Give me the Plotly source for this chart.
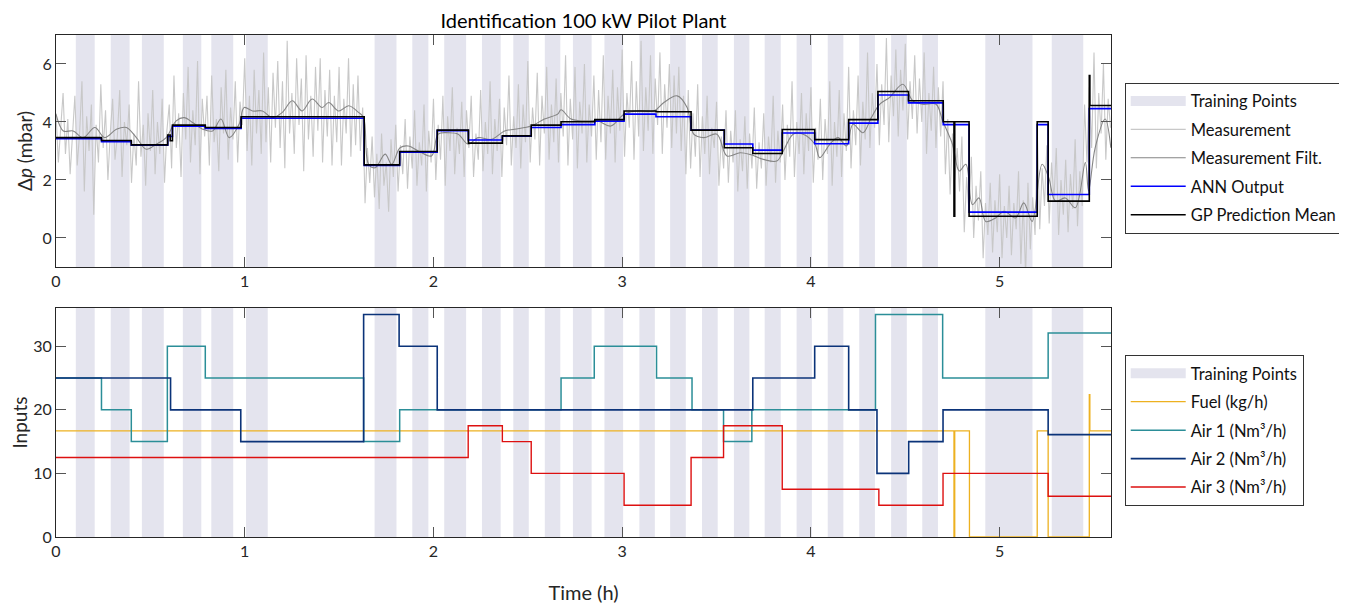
import plotly.graph_objects as go
from plotly.subplots import make_subplots

# ---------------- data ----------------
train_start = [0.105, 0.29, 0.455, 0.672, 0.823, 1.007, 1.688, 1.888, 2.057, 2.257, 2.423, 2.59, 2.739,
               2.906, 3.091, 3.254, 3.423, 3.592, 3.755, 3.924, 4.089, 4.256, 4.425, 4.59, 4.924, 5.276]
train_end = [0.205, 0.39, 0.571, 0.77, 0.939, 1.122, 1.804, 1.973, 2.173, 2.356, 2.505, 2.672, 2.838,
             3.005, 3.173, 3.337, 3.506, 3.674, 3.84, 4.005, 4.172, 4.339, 4.508, 4.673, 5.174, 5.443]

# raw measurement, sampled every MEAS_DT hours from t = 0 (8 samples per 0.1 h row)
MEAS_DT = 0.0125
meas = [
    4.3, 2.6, 3.8, 5.0, 2.9, 4.1, 2.2, 3.7,
    4.9, 2.5, 3.6, 5.4, 1.6, 4.2, 3.0, 4.6,
    0.8, 3.9, 2.6, 5.3, 3.1, 4.4, 2.0, 3.6,
    4.8, 2.7, 3.5, 5.1, 2.1, 4.0, 3.2, 4.6,
    1.9, 3.6, 2.5, 5.4, 2.8, 3.9, 1.8, 4.3,
    3.0, 5.1, 2.2, 4.0, 2.9, 4.8, 1.9, 3.7,
    4.6, 2.4, 5.6, 3.1, 4.3, 2.1, 5.0, 3.4,
    5.9, 2.6, 4.4, 3.2, 6.1, 2.2, 4.8, 3.5,
    4.9, 2.5, 5.6, 3.3, 4.1, 2.3, 5.2, 3.6,
    5.8, 2.7, 4.5, 3.4, 5.4, 2.6, 4.7, 3.9,
    6.2, 3.0, 4.9, 2.5, 5.8, 3.6, 5.1, 2.9,
    6.4, 3.3, 5.2, 2.6, 5.7, 3.8, 6.1, 3.1,
    5.4, 2.4, 6.8, 3.6, 5.0, 2.9, 6.2, 3.9,
    5.5, 2.3, 6.3, 3.4, 4.9, 2.8, 5.9, 3.7,
    6.2, 2.6, 5.1, 3.5, 5.8, 2.5, 4.9, 3.3,
    5.9, 2.5, 4.8, 3.6, 6.2, 2.8, 5.3, 3.2,
    5.6, 3.0, 4.5, 1.2, 3.1, 1.9, 3.5, 1.4,
    2.9, 1.0, 3.6, 1.8, 2.6, 0.9, 3.4, 2.1,
    3.9, 1.6, 3.2, 2.2, 4.1, 1.7, 3.5, 2.4,
    4.4, 1.8, 3.3, 2.5, 4.6, 1.6, 3.7, 2.6,
    4.8, 2.0, 3.9, 2.7, 4.9, 1.8, 4.2, 3.0,
    5.2, 2.2, 3.8, 2.9, 4.7, 2.1, 4.4, 3.1,
    4.9, 2.1, 3.6, 2.7, 5.1, 2.3, 4.0, 2.9,
    5.4, 2.2, 4.1, 3.0, 4.8, 2.1, 4.5, 3.2,
    5.6, 2.5, 4.2, 3.1, 5.3, 2.4, 4.6, 3.3,
    6.1, 2.6, 4.5, 3.4, 5.7, 2.5, 4.9, 3.6,
    5.9, 2.7, 4.6, 3.3, 5.5, 2.6, 5.0, 3.5,
    6.3, 2.5, 4.8, 3.4, 5.9, 2.4, 4.7, 3.6,
    6.0, 2.6, 4.6, 3.5, 5.6, 2.7, 5.1, 3.3,
    6.3, 2.7, 4.9, 3.6, 5.8, 2.6, 5.2, 3.7,
    6.5, 2.8, 5.0, 3.8, 6.1, 2.7, 5.4, 3.5,
    6.8, 3.0, 5.2, 3.7, 6.3, 2.9, 5.5, 3.9,
    6.4, 2.9, 5.3, 3.8, 6.0, 3.1, 5.6, 3.6,
    5.9, 3.0, 4.9, 2.2, 5.1, 2.4, 4.3, 2.8,
    5.3, 2.1, 4.2, 2.9, 4.9, 2.2, 3.8, 3.1,
    4.7, 1.8, 3.5, 2.4, 4.4, 1.9, 3.7, 2.6,
    4.4, 1.6, 3.4, 2.3, 4.2, 1.7, 3.6, 2.4,
    4.5, 1.7, 3.3, 2.4, 4.3, 1.8, 3.5, 2.6,
    4.9, 1.9, 3.7, 2.6, 4.6, 2.0, 3.9, 2.8,
    5.4, 2.1, 4.0, 2.9, 5.0, 2.2, 4.3, 3.0,
    5.2, 1.9, 3.8, 2.7, 4.8, 2.0, 4.1, 2.9,
    5.4, 1.8, 4.0, 2.8, 5.1, 2.1, 4.3, 3.0,
    5.9, 2.4, 4.4, 3.2, 5.6, 2.5, 4.7, 3.4,
    6.4, 3.1, 5.0, 3.8, 6.0, 3.2, 5.3, 3.9,
    6.9, 3.3, 5.6, 4.2, 6.5, 3.5, 5.8, 4.4,
    6.7, 3.4, 5.4, 4.1, 6.3, 3.6, 5.5, 4.0,
    6.4, 2.9, 5.0, 3.7, 5.9, 3.1, 5.2, 3.5,
    5.4, 2.2, 4.1, 1.5, 3.6, 2.0, 3.1, 1.6,
    3.5, 0.2, 2.1, 0.9, 2.8, 0.0, 1.8, 0.6,
    2.3, -0.7, 1.2, 0.1, 1.9, -0.5, 1.3, 0.2,
    2.2, -0.7, 1.1, 0.0, 1.8, -0.6, 1.2, 0.3,
    2.3, -0.9, 1.3, -1.3, 1.9, -0.4, 1.4, 0.1,
    3.5, 0.3, 2.4, 1.1, 3.2, 0.5, 2.6, 1.3,
    3.1, 0.1, 2.0, 0.8, 2.7, 0.2, 2.2, 1.0,
    3.4, 0.4, 2.3, 1.1, 4.6, 2.6, 5.2, 3.1,
    6.4, 2.4, 5.0, 3.6, 6.0, 2.7, 4.8, 3.8,
]

filt_t = [0, 0.039, 0.091, 0.144, 0.206, 0.258, 0.320, 0.373, 0.426, 0.478, 0.531, 0.584, 0.637, 0.680,
          0.724, 0.777, 0.830, 0.874, 0.918, 0.970, 0.997, 1.041, 1.094, 1.146, 1.199, 1.252, 1.304,
          1.357, 1.410, 1.445, 1.498, 1.551, 1.603, 1.630, 1.656, 1.691, 1.744, 1.779, 1.823, 1.867,
          1.920, 1.990, 2.025, 2.078, 2.131, 2.184, 2.236, 2.307, 2.377, 2.430, 2.518, 2.588, 2.658,
          2.676, 2.729, 2.799, 2.869, 2.940, 3.010, 3.080, 3.168, 3.221, 3.291, 3.344, 3.379, 3.432,
          3.502, 3.555, 3.625, 3.678, 3.748, 3.819, 3.854, 3.906, 3.959, 4.021, 4.047, 4.100, 4.144,
          4.188, 4.223, 4.276, 4.320, 4.364, 4.416, 4.487, 4.540, 4.592, 4.663, 4.698, 4.750, 4.786,
          4.821, 4.856, 4.891, 4.926, 4.979, 5.023, 5.084, 5.128, 5.172, 5.225, 5.260, 5.296, 5.348,
          5.401, 5.454, 5.471, 5.506, 5.559, 5.589]
filt_v = [4.27, 3.69, 3.69, 3.46, 3.81, 3.46, 3.75, 3.81, 3.46, 3.06, 3.23, 3.46, 4.04, 4.15,
          3.98, 3.75, 3.69, 4.10, 3.46, 3.92, 4.50, 4.38, 4.38, 4.15, 4.33, 4.73, 4.38,
          4.79, 4.50, 4.67, 4.38, 4.56, 4.33, 4.15, 2.54, 2.42, 2.89, 2.54, 3.11, 3.17,
          3.00, 2.83, 3.58, 3.63, 3.58, 3.23, 3.46, 3.40, 3.69, 3.75, 3.86, 4.10, 4.27,
          4.42, 4.10, 4.04, 4.04, 3.86, 4.27, 4.38, 4.38, 4.67, 4.90, 4.50, 3.58, 3.46,
          3.58, 2.83, 2.94, 2.88, 2.71, 2.65, 3.00, 3.58, 3.58, 3.23, 2.77, 3.23, 3.46,
          3.17, 3.92, 3.63, 4.15, 4.61, 4.84, 5.30, 4.73, 4.61, 4.61, 4.04, 3.23, 2.31,
          2.54, 1.15, 1.38, 0.57, 0.69, 0.92, 0.69, 1.21, 0.57, 2.54, 2.08, 1.27, 1.38,
          1.04, 2.60, 1.62, 3.11, 4.10, 3.11]

ann_t = [0, 0.241, 0.399, 0.592, 0.617, 0.791, 0.981, 1.633, 1.821, 2.02, 2.185, 2.365, 2.518, 2.676,
         2.855, 3.01, 3.179, 3.365, 3.541, 3.692, 3.848, 4.02, 4.2, 4.355, 4.517, 4.701, 4.838, 5.199,
         5.257, 5.475, 5.59]
ann_v = [3.42, 3.32, 3.20, 3.50, 3.85, 3.78, 4.13, 2.50, 2.96, 3.70, 3.38, 3.51, 3.81, 3.91,
         4.03, 4.27, 4.18, 3.72, 3.24, 3.03, 3.62, 3.25, 3.96, 4.93, 4.66, 3.91, 0.89, 3.91,
         1.50, 4.46, 4.46]

gp_t = [0, 0.241, 0.399, 0.592, 0.605, 0.617, 0.791, 0.981, 1.633, 1.821, 2.02, 2.185, 2.365, 2.518,
        2.676, 2.855, 3.01, 3.179, 3.365, 3.541, 3.692, 3.848, 4.02, 4.2, 4.355, 4.517, 4.701, 4.758,
        4.762, 4.838, 5.199, 5.257, 5.475, 5.478, 5.59]
gp_v = [3.46, 3.36, 3.21, 3.55, 3.35, 3.89, 3.81, 4.18, 2.52, 2.98, 3.72, 3.27, 3.52, 3.89,
        4.01, 4.08, 4.38, 4.35, 3.72, 3.11, 2.91, 3.74, 3.39, 4.08, 5.05, 4.73, 4.01, 0.75,
        4.01, 0.75, 4.01, 1.27, 5.60, 4.57, 4.57]

fuel_t = [0, 4.758, 4.762, 4.84, 5.199, 5.257, 5.475, 5.478, 5.59]
fuel_v = [16.7, 0, 16.7, 0, 16.7, 0, 22.4, 16.7, 16.7]

air1_t = [0, 0.241, 0.399, 0.59, 0.791, 1.63, 1.821, 2.676, 2.852, 3.182, 3.37, 3.537, 3.687, 4.342,
          4.698, 5.257, 5.59]
air1_v = [25, 20, 15, 30, 25, 15, 20, 25, 30, 25, 20, 15, 20, 35, 25, 32.1, 32.1]

air2_t = [0, 0.607, 0.979, 1.63, 1.818, 2.02, 3.692, 4.02, 4.2, 4.35, 4.518, 4.7, 5.257, 5.59]
air2_v = [25, 20, 15, 35, 30, 20, 25, 30, 20, 10, 15, 20, 16.1, 16.1]

air3_t = [0, 2.184, 2.365, 2.518, 3.01, 3.365, 3.537, 3.848, 4.36, 4.7, 5.257, 5.59]
air3_v = [12.5, 17.5, 15, 10, 5, 12.5, 17.5, 7.5, 5, 10, 6.4, 6.4]

x_ticks = [0, 1, 2, 3, 4, 5]
top_ticks = [0, 2, 4, 6]
bot_ticks = [0, 10, 20, 30]

# ---------------- style ----------------
FONT = "Lato"
BAND = "#e4e4ee"
C_MEAS = "#c8c8c8"
C_FILT = "#858585"
C_ANN = "#0000ff"
C_GP = "#000000"
C_FUEL = "#edb120"
C_AIR1 = "#2b8e98"
C_AIR2 = "#0b3379"
C_AIR3 = "#dd1010"

fig = make_subplots(rows=2, cols=1)

meas_t = [i * MEAS_DT for i in range(len(meas))]

fig.add_trace(go.Scatter(x=[None], y=[None], mode="lines", name="Training Points",
                         line=dict(color=BAND, width=20), legend="legend", legendgroup="a1"), 1, 1)
fig.add_trace(go.Scatter(x=meas_t, y=meas, mode="lines", name="Measurement",
                         line=dict(color=C_MEAS, width=1.1), legend="legend", legendgroup="a2"), 1, 1)
fig.add_trace(go.Scatter(x=filt_t, y=filt_v, mode="lines", name="Measurement Filt.", line_shape="spline",
                         line=dict(color=C_FILT, width=1.1), legend="legend", legendgroup="a3"), 1, 1)
fig.add_trace(go.Scatter(x=ann_t, y=ann_v, mode="lines", name="ANN Output", line_shape="hv",
                         line=dict(color=C_ANN, width=1.6), legend="legend", legendgroup="a4"), 1, 1)
fig.add_trace(go.Scatter(x=gp_t, y=gp_v, mode="lines", name="GP Prediction Mean", line_shape="hv",
                         line=dict(color=C_GP, width=1.6), legend="legend", legendgroup="a5"), 1, 1)

fig.add_trace(go.Scatter(x=[None], y=[None], mode="lines", name="Training Points",
                         line=dict(color=BAND, width=20), legend="legend2", legendgroup="b1"), 2, 1)
fig.add_trace(go.Scatter(x=fuel_t, y=fuel_v, mode="lines", name="Fuel (kg/h)", line_shape="hv",
                         line=dict(color=C_FUEL, width=1.3), legend="legend2", legendgroup="b2"), 2, 1)
fig.add_trace(go.Scatter(x=air1_t, y=air1_v, mode="lines", name="Air 1 (Nm³/h)", line_shape="hv",
                         line=dict(color=C_AIR1, width=1.5), legend="legend2", legendgroup="b3"), 2, 1)
fig.add_trace(go.Scatter(x=air2_t, y=air2_v, mode="lines", name="Air 2 (Nm³/h)", line_shape="hv",
                         line=dict(color=C_AIR2, width=1.6), legend="legend2", legendgroup="b4"), 2, 1)
fig.add_trace(go.Scatter(x=air3_t, y=air3_v, mode="lines", name="Air 3 (Nm³/h)", line_shape="hv",
                         line=dict(color=C_AIR3, width=1.4), legend="legend2", legendgroup="b5"), 2, 1)

for s, e in zip(train_start, train_end):
    for r in (1, 2):
        fig.add_vrect(x0=s, x1=e, fillcolor=BAND, opacity=1, line_width=0, layer="below", row=r, col=1)

axis_common = dict(showline=True, linecolor="#262626", linewidth=1, mirror="allticks", ticks="inside",
                   ticklen=10, tickcolor="#555555", tickwidth=1, showgrid=False, zeroline=False,
                   automargin=False, tickfont=dict(family=FONT, size=16, color="#262626"))

fig.update_layout(
    width=1347, height=603,
    margin=dict(l=48, r=239, t=27, b=74),
    paper_bgcolor="white", plot_bgcolor="white",
    font=dict(family=FONT, size=16, color="#262626"),
    title=dict(text="Identification 100 kW Pilot Plant", x=0.5, xref="paper", xanchor="center",
               y=0.978, yanchor="middle", font=dict(family=FONT, size=20, color="#000000")),
    showlegend=True,
    xaxis=dict(domain=[0, 1], range=[0, 5.59], tickvals=x_ticks, anchor="y", **axis_common),
    yaxis=dict(domain=[0.538, 1], range=[-1, 7], tickvals=top_ticks, anchor="x",
               title=dict(text="Δ<i>p</i> (mbar)", font=dict(family=FONT, size=19, color="#262626"), standoff=4),
               **axis_common),
    xaxis2=dict(domain=[0, 1], range=[0, 5.59], tickvals=x_ticks, anchor="y2",
                title=dict(text="Time (h)", font=dict(family=FONT, size=20, color="#262626"), standoff=26),
                **axis_common),
    yaxis2=dict(domain=[0, 0.456], range=[0, 36], tickvals=bot_ticks, anchor="x2",
                title=dict(text="Inputs", font=dict(family=FONT, size=19, color="#262626"), standoff=8),
                **axis_common),
    legend=dict(x=1.013, y=0.905, xanchor="left", yanchor="top", bgcolor="white", bordercolor="#333333",
                borderwidth=1, font=dict(family=FONT, size=16.5, color="#111111"), itemwidth=55,
                tracegroupgap=4, traceorder="grouped"),
    legend2=dict(x=1.013, y=0.3625, xanchor="left", yanchor="top", bgcolor="white", bordercolor="#333333",
                 borderwidth=1, font=dict(family=FONT, size=16.5, color="#111111"), itemwidth=55,
                 tracegroupgap=4, traceorder="grouped"),
)

fig.write_html("out.html")
